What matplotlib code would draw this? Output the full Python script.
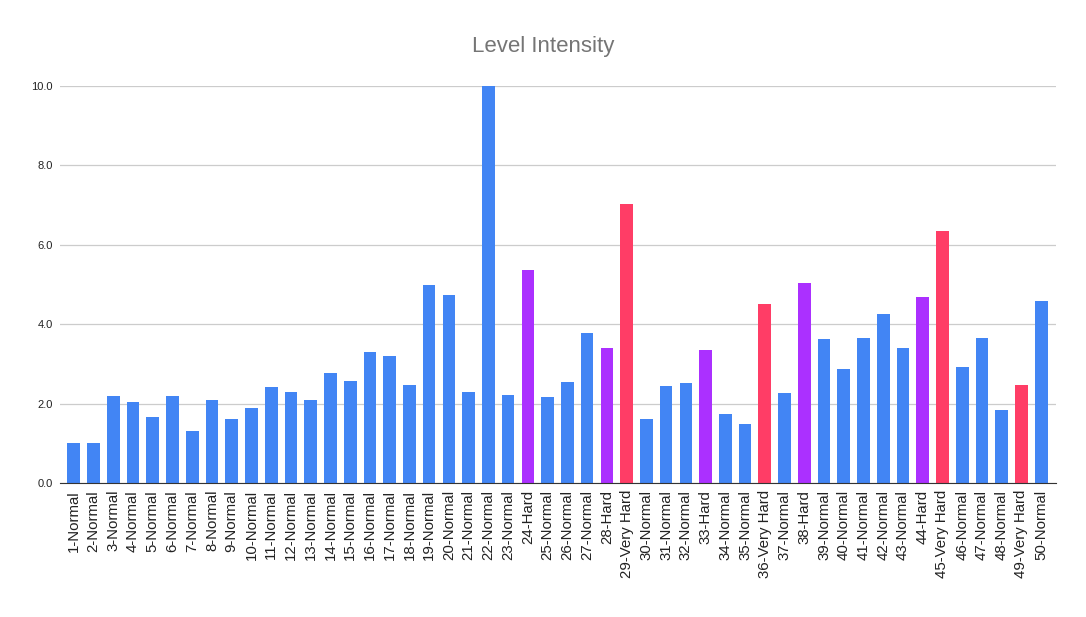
import numpy as np
import matplotlib
matplotlib.use("Agg")
import matplotlib.pyplot as plt

plt.rcParams['font.family'] = ['Liberation Sans', 'DejaVu Sans']

# Données : niveaux et intensité
levels = list(range(1, 51))
difficulty = ['Normal'] * 50
for n in [24, 28, 33, 38, 44]:
    difficulty[n - 1] = 'Hard'
for n in [29, 36, 45, 49]:
    difficulty[n - 1] = 'Very Hard'

intensity = [1.0, 1.0, 2.2, 2.03, 1.66, 2.2, 1.3, 2.08, 1.6, 1.88,
             2.43, 2.28, 2.1, 2.78, 2.56, 3.29, 3.21, 2.46, 4.99, 4.74,
             2.29, 10.0, 2.22, 5.37, 2.17, 2.55, 3.78, 3.39, 7.04, 1.62,
             2.44, 2.53, 3.35, 1.74, 1.49, 4.52, 2.27, 5.04, 3.63, 2.88,
             3.66, 4.26, 3.41, 4.68, 6.34, 2.93, 3.66, 1.85, 2.47, 4.59]

tick_labels = [f"{n}-{d}" for n, d in zip(levels, difficulty)]

colors_map = {'Normal': '#4285F4', 'Hard': '#AB30FF', 'Very Hard': '#FF3D66'}
bar_colors = [colors_map[d] for d in difficulty]

fig = plt.figure(figsize=(10.86, 6.17), dpi=100)
ax = fig.add_axes([0.0552, 0.2172, 0.9172, 0.6434])

x = np.arange(len(levels))
ax.bar(x, intensity, width=0.64, color=bar_colors, zorder=3)

ax.set_xlim(-0.7, len(levels) - 0.25)
ax.set_ylim(0, 10)
ax.set_yticks([0, 2, 4, 6, 8, 10])
ax.set_yticklabels([f"{v:.1f}" for v in [0, 2, 4, 6, 8, 10]], fontsize=8, color='#222222')
ax.set_xticks(x)
ax.set_xticklabels(tick_labels, rotation=90, fontsize=10.8, color='#222222')
ax.tick_params(axis='both', length=0, pad=5)

ax.grid(axis='y', color='#cccccc', linewidth=0.9, zorder=0)
for s in ['top', 'right', 'left']:
    ax.spines[s].set_visible(False)
ax.spines['bottom'].set_color('#333333')
ax.spines['bottom'].set_zorder(4)

fig.text(0.5, 0.925, 'Level Intensity', ha='center', va='center', fontsize=16, color='#757575')

fig.savefig('out.png', dpi=100)
